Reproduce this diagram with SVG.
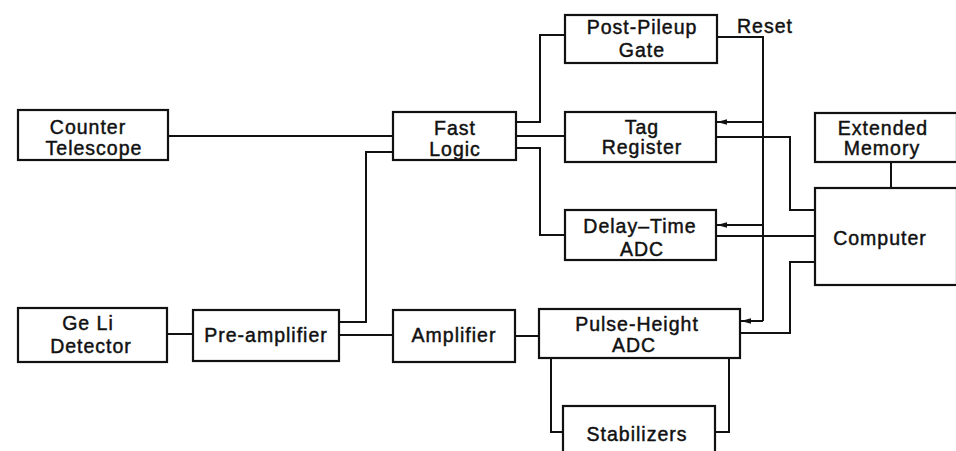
<svg xmlns="http://www.w3.org/2000/svg" width="956" height="451" viewBox="0 0 956 451">
<style>
.box{fill:#fff;stroke:#111;stroke-width:2.2}
.ln{fill:none;stroke:#111;stroke-width:2}
text{font-family:"Liberation Sans",Arial,sans-serif;font-size:19.5px;fill:#111;stroke:#111;stroke-width:0.45;text-anchor:middle;letter-spacing:1px}
</style>
<defs>
<marker id="ah" viewBox="0 0 10 10" refX="10" refY="5" markerWidth="10" markerHeight="7" orient="auto-start-reverse" markerUnits="userSpaceOnUse" preserveAspectRatio="none">
<path d="M0,1 L10,5 L0,9 z" fill="#111"/>
</marker>
</defs>
<g id="connectors">
<path class="ln" d="M168,136 H393"/>
<path class="ln" d="M339,322 H366 V152 H393"/>
<path class="ln" d="M167,334 H193"/>
<path class="ln" d="M339,335 H393"/>
<path class="ln" d="M515,336 H539"/>
<path class="ln" d="M516,122 H540 V35 H565"/>
<path class="ln" d="M516,136 H565" stroke-width="3"/>
<path class="ln" d="M516,148 H540 V235 H565"/>
<path class="ln" d="M717,37 H763 V321"/>
<path class="ln" d="M763,122 H717" marker-end="url(#ah)"/>
<path class="ln" d="M763,225 H717" marker-end="url(#ah)"/>
<path class="ln" d="M763,321 H741" marker-end="url(#ah)"/>
<path class="ln" d="M716,137 H790 V210 H815"/>
<path class="ln" d="M716,236 H815"/>
<path class="ln" d="M815,262 H790 V333 H740"/>
<path class="ln" d="M891,162 V188"/>
<path class="ln" d="M551,358 V432 H563"/>
<path class="ln" d="M729,358 V432 H715"/>
</g>
<g id="counter-telescope"><rect class="box" x="18" y="110" width="150" height="50"/><text x="88" y="134">Counter</text><text x="94" y="155">Telescope</text></g>
<g id="fast-logic"><rect class="box" x="393" y="112" width="123" height="48"/><text x="455" y="135">Fast</text><text x="455" y="156">Logic</text></g>
<g id="post-pileup-gate"><rect class="box" x="565" y="15" width="152" height="48"/><text x="642" y="34">Post-Pileup</text><text x="642" y="57">Gate</text></g>
<text x="765" y="33">Reset</text>
<g id="tag-register"><rect class="box" x="565" y="112" width="151" height="50"/><text x="642" y="134">Tag</text><text x="642" y="154">Register</text></g>
<g id="delay-time-adc"><rect class="box" x="565" y="210" width="151" height="50"/><text x="640" y="233">Delay–Time</text><text x="642" y="256">ADC</text></g>
<g id="extended-memory"><rect class="box" x="815" y="113" width="142" height="49"/><text x="883" y="135">Extended</text><text x="882" y="155">Memory</text></g>
<g id="computer"><rect class="box" x="815" y="188" width="142" height="97"/><text x="880" y="245">Computer</text></g>
<g id="ge-li-detector"><rect class="box" x="18" y="308" width="149" height="54"/><text x="88" y="330">Ge  Li</text><text x="91" y="353">Detector</text></g>
<g id="pre-amplifier"><rect class="box" x="193" y="310" width="146" height="51"/><text x="266" y="342">Pre-amplifier</text></g>
<g id="amplifier"><rect class="box" x="393" y="310" width="122" height="52"/><text x="454" y="342">Amplifier</text></g>
<g id="pulse-height-adc"><rect class="box" x="539" y="309" width="201" height="49"/><text x="637" y="331">Pulse-Height</text><text x="634" y="352">ADC</text></g>
<g id="stabilizers"><rect class="box" x="563" y="406" width="152" height="55"/><text x="637" y="441">Stabilizers</text></g>
</svg>
